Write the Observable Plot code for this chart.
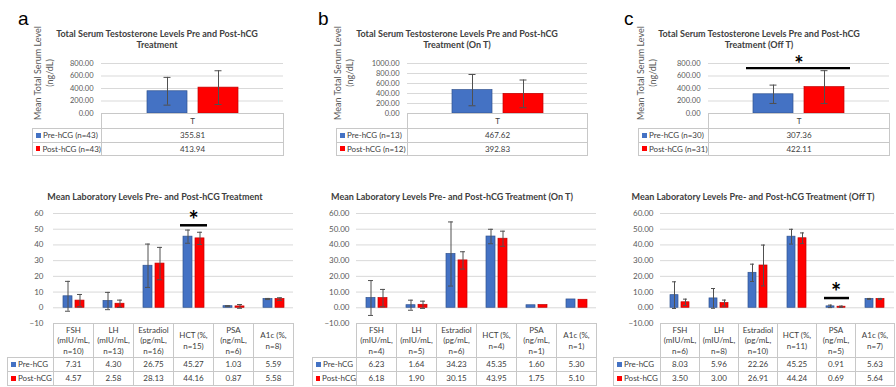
<!DOCTYPE html>
<html><head><meta charset="utf-8">
<script src="https://cdn.jsdelivr.net/npm/d3@7"></script>
<script src="https://cdn.jsdelivr.net/npm/@observablehq/plot@0.6"></script>
<style>
body{margin:0;background:#fff;}
#root{position:relative;width:896px;height:387px;overflow:hidden;font-family:Lato,"Open Sans",sans-serif;color:#404040;background:#fff;}
.title{position:absolute;font-weight:bold;font-size:9px;line-height:11px;text-align:center;color:#404040;white-space:pre;transform:translateX(-50%);}
.letter{position:absolute;font-family:"Liberation Sans",Arial,sans-serif;font-size:19px;line-height:19px;color:#000;}
.cell{position:absolute;box-sizing:border-box;border:1px solid #c8c8c8;display:flex;align-items:center;justify-content:center;text-align:center;font-size:8px;line-height:10.5px;color:#404040;white-space:pre-line;}
.leg{justify-content:flex-start;padding-left:3px;white-space:nowrap;}
.key{display:inline-block;width:5px;height:5px;margin-right:2px;}
.ylab{position:absolute;font-size:9px;line-height:12px;color:#595959;text-align:center;white-space:pre;transform:translate(-50%,-50%) rotate(-90deg);}
svg{position:absolute;overflow:visible;}
</style>
</head><body><div id="root"></div>
<script>
// ---------- data ----------
const panelLetters = ["a", "b", "c"];
const topTitles = [
  "Total Serum Testosterone Levels Pre and Post-hCG\nTreatment",
  "Total Serum Testosterone Levels Pre and Post-hCG\nTreatment (On T)",
  "Total Serum Testosterone Levels Pre and Post-hCG\nTreatment (Off T)"
];
const labTitles = [
  "Mean Laboratory Levels Pre- and Post-hCG Treatment",
  "Mean Laboratory Levels Pre- and Post-hCG Treatment (On T)",
  "Mean Laboratory Levels Pre- and Post-hCG Treatment (Off T)"
];
const yAxisTitle = "Mean Total Serum Level\n(ng/dL)";
const series = ["Pre", "Post"];

// Testosterone (top)
const tCats = ["T"];
const tPreA = [355.81], tPostA = [413.94], tPreErrA = [222], tPostErrA = [270];
const tPreB = [467.62], tPostB = [392.83], tPreErrB = [313], tPostErrB = [277];
const tPreC = [307.36], tPostC = [422.11], tPreErrC = [147], tPostErrC = [263];
const tLegendA = ["Pre-hCG (n=43)", "Post-hCG (n=43)"];
const tLegendB = ["Pre-hCG (n=13)", "Post-hCG (n=12)"];
const tLegendC = ["Pre-hCG (n=30)", "Post-hCG (n=31)"];
const tTicks800 = [0, 200, 400, 600, 800];
const tTicks1000 = [0, 200, 400, 600, 800, 1000];
const tSigC = [{cat: "T", y: 725, starY: 776}];

// Laboratory (bottom)
const labCats = ["FSH", "LH", "Estradiol", "HCT", "PSA", "A1c"];
const labHeadA = ["FSH\n(mIU/mL,\nn=10)", "LH\n(mIU/mL,\nn=13)", "Estradiol\n(pg/mL,\nn=16)", "HCT (%,\nn=15)", "PSA\n(ng/mL,\nn=6)", "A1c (%,\nn=8)"];
const labHeadB = ["FSH\n(mIU/mL,\nn=4)", "LH\n(mIU/mL,\nn=5)", "Estradiol\n(pg/mL,\nn=6)", "HCT (%,\nn=4)", "PSA\n(ng/mL,\nn=1)", "A1c (%,\nn=1)"];
const labHeadC = ["FSH\n(mIU/mL,\nn=6)", "LH\n(mIU/mL,\nn=8)", "Estradiol\n(pg/mL,\nn=10)", "HCT (%,\nn=11)", "PSA\n(ng/mL,\nn=5)", "A1c (%,\nn=7)"];
const labPreA = [7.31, 4.30, 26.75, 45.27, 1.03, 5.59];
const labPostA = [4.57, 2.58, 28.13, 44.16, 0.87, 5.58];
const labPreErrA = [9.5, 5.5, 13.8, 4.2, 0.3, 0.35];
const labPostErrA = [3.9, 2.3, 10.3, 3.9, 1.2, 0.8];
const labPreB = [6.23, 1.64, 34.23, 45.35, 1.60, 5.30];
const labPostB = [6.18, 1.90, 30.15, 43.95, 1.75, 5.10];
const labPreErrB = [11.1, 3.2, 20.4, 4.6, 0, 0];
const labPostErrB = [5.5, 2.3, 5.5, 4.8, 0, 0];
const labPreC = [8.03, 5.96, 22.26, 45.25, 0.91, 5.63];
const labPostC = [3.50, 3.00, 26.91, 44.24, 0.69, 5.64];
const labPreErrC = [8.5, 6.3, 5.5, 4.7, 0.8, 0.3];
const labPostErrC = [2.0, 1.9, 13.0, 3.4, 0.4, 0.3];
const labLegend = ["Pre-hCG", "Post-hCG"];
const labTicks = [-10, 0, 10, 20, 30, 40, 50, 60];
const labSigA = [{cat: "HCT", y: 52.5, starY: 55}];
const labSigC = [{cat: "PSA", y: 6.2, starY: 9}];

// ---------- styling ----------
const fillOf = {Pre: "#4472C4", Post: "#FF0000"};
const strokeOf = {Pre: "#2F528F", Post: "#C00000"};
const keyColors = ["#4472C4", "#FF0000"];
const root = document.getElementById("root");

function el(cls, css, html) {
  const d = document.createElement("div");
  d.className = cls;
  Object.assign(d.style, css);
  if (html !== undefined) d.innerHTML = html;
  root.appendChild(d);
  return d;
}

function panel(c) {
  const rows = [];
  c.cats.forEach((cat, i) => {
    rows.push({cat, s: "Pre", v: c.pre[i], e: c.preErr[i]});
    rows.push({cat, s: "Post", v: c.post[i], e: c.postErr[i]});
  });
  const errRows = rows.filter(d => d.e > 0);
  const marks = [
    Plot.ruleY(c.yTicks, {stroke: "#d9d9d9", strokeWidth: 1}),
    Plot.barY(rows, {fx: "cat", x: "s", y: "v", fill: d => fillOf[d.s], stroke: d => strokeOf[d.s], strokeWidth: 0.7}),
    Plot.ruleX(errRows, {fx: "cat", x: "s", y1: d => d.v - d.e, y2: d => d.v + d.e, stroke: "#505050", strokeWidth: 1}),
    Plot.tickY(errRows, {fx: "cat", x: "s", y: d => d.v + d.e, stroke: "#505050", strokeWidth: 1, insetLeft: c.capInset, insetRight: c.capInset}),
    Plot.tickY(errRows, {fx: "cat", x: "s", y: d => d.v - d.e, stroke: "#505050", strokeWidth: 1, insetLeft: c.capInset, insetRight: c.capInset})
  ];
  if (c.sig) {
    marks.push(Plot.ruleY(c.sig, {fx: "cat", y: "y", stroke: "#000", strokeWidth: c.sigWidth, insetLeft: c.sigInsetL, insetRight: c.sigInsetR}));
    marks.push(Plot.text(c.sig, {fx: "cat", y: "starY", text: () => "*", fontSize: c.starSize, fontWeight: "bold", fill: "#000"}));
  }
  const plot = Plot.plot({
    width: c.width, height: c.height,
    marginLeft: c.ml, marginRight: c.mr, marginTop: c.mt, marginBottom: c.mb,
    style: {fontFamily: "Lato, sans-serif", fontSize: c.tickFont + "px", color: "#595959", background: "transparent", overflow: "visible"},
    fx: {domain: c.cats, padding: 0, axis: null},
    x: {domain: series, paddingInner: c.pi, paddingOuter: c.po, axis: null},
    y: {domain: c.yDomain, ticks: c.yTicks, tickFormat: c.tickFormat, tickSize: 0, tickPadding: c.tp, label: null},
    color: {type: "identity"},
    marks
  });
  plot.style.left = c.left + "px";
  plot.style.top = c.top + "px";
  root.appendChild(plot);

  // data table aligned to the fx band scale
  let fx = null;
  try { fx = plot.scale("fx"); } catch (e) {}
  const n = c.cats.length;
  const colW = fx && fx.bandwidth ? fx.bandwidth : (c.width - c.ml - c.mr) / n;
  const colX = i => c.left + (fx && fx.apply ? fx.apply(c.cats[i]) : c.ml + i * colW);
  const dataLeft = colX(0);
  const fmt = d3.format(".2f");
  c.heads.forEach((h, i) => {
    el("cell", {left: Math.round(colX(i)) + "px", top: c.tTop + "px", width: Math.round(colW) + 1 + "px", height: c.headH + 1 + "px"}, "").textContent = h;
  });
  [c.pre, c.post].forEach((vals, r) => {
    const top = c.tTop + c.headH + r * c.rowH;
    el("cell leg", {left: c.tLeft + "px", top: top + "px", width: Math.round(dataLeft - c.tLeft) + 1 + "px", height: c.rowH + 1 + "px"},
      `<span class="key" style="background:${keyColors[r]}"></span>${c.legend[r]}`);
    vals.forEach((v, i) => {
      el("cell", {left: Math.round(colX(i)) + "px", top: top + "px", width: Math.round(colW) + 1 + "px", height: c.rowH + 1 + "px"}, fmt(v));
    });
  });
}

// ---------- top panels ----------
const topCommon = {cats: tCats, width: 300, height: 60, top: 55, mt: 8, mb: 2, pi: 0.22, po: 0.87,
  tickFont: 7.5, tp: 8, tickFormat: d3.format(".2f"), capInset: 16.5,
  tTop: 113, headH: 15, rowH: 13.5, heads: ["T"]};
panel({...topCommon, left: 0, ml: 101, mr: 17, yDomain: [0, 800], yTicks: tTicks800,
  pre: tPreA, post: tPostA, preErr: tPreErrA, postErr: tPostErrA, legend: tLegendA, tLeft: 32});
panel({...topCommon, left: 300, ml: 107, mr: 13, yDomain: [0, 1000], yTicks: tTicks1000,
  pre: tPreB, post: tPostB, preErr: tPreErrB, postErr: tPostErrB, legend: tLegendB, tLeft: 336});
panel({...topCommon, left: 596, ml: 112, mr: 7, yDomain: [0, 800], yTicks: tTicks800,
  pre: tPreC, post: tPostC, preErr: tPreErrC, postErr: tPostErrC, legend: tLegendC, tLeft: 638,
  sig: tSigC, sigWidth: 2.2, sigInsetL: 38, sigInsetR: 39, starSize: 22});

// ---------- bottom panels ----------
const labCommon = {cats: labCats, width: 300, height: 120, top: 205, mt: 8, mb: 2, pi: 0.25, po: 0.79,
  tickFont: 8, yDomain: [-10, 60], yTicks: labTicks, capInset: 2,
  tTop: 323, headH: 34, rowH: 14, legend: labLegend};
panel({...labCommon, left: 0, ml: 53, mr: 7, tp: 10, tickFormat: d3.format("d"), heads: labHeadA,
  pre: labPreA, post: labPostA, preErr: labPreErrA, postErr: labPostErrA, tLeft: 7,
  sig: labSigA, sigWidth: 2.5, sigInsetL: 7, sigInsetR: 6, starSize: 24});
panel({...labCommon, left: 300, ml: 55, mr: 3, tp: 7, tickFormat: d3.format(".2f"), heads: labHeadB,
  pre: labPreB, post: labPostB, preErr: labPreErrB, postErr: labPostErrB, tLeft: 312});
panel({...labCommon, left: 596, ml: 62, mr: 0, tp: 7, tickFormat: d3.format(".2f"), heads: labHeadC,
  pre: labPreC, post: labPostC, preErr: labPreErrC, postErr: labPostErrC, tLeft: 613,
  sig: labSigC, sigWidth: 2.5, sigInsetL: 8, sigInsetR: 6, starSize: 24});

// ---------- titles, letters, axis titles ----------
const letterX = [18, 318, 624];
const topTitleX = [157, 457, 759];
const labTitleX = [155, 452, 753];
const yLabX = [44, 344, 647];
panelLetters.forEach((L, i) => {
  el("letter", {left: letterX[i] + "px", top: "9px"}, L);
  el("title", {left: topTitleX[i] + "px", top: "28px"}).textContent = topTitles[i];
  el("title", {left: labTitleX[i] + "px", top: "191px"}).textContent = labTitles[i];
  el("ylab", {left: yLabX[i] + "px", top: "73px"}).textContent = yAxisTitle;
});
</script>
</body></html>
